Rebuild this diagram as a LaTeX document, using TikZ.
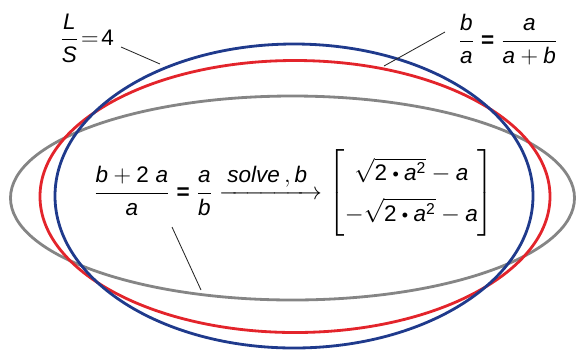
\documentclass[tikz,border=0pt]{standalone}
\usepackage{amsmath}
\usepackage{graphicx}
\usepackage{fontspec}
\setmainfont{Liberation Sans}
\usetikzlibrary{positioning,calc}
\definecolor{navyline}{HTML}{1F3A8C}
\definecolor{redline}{HTML}{E3242B}
\definecolor{grayline}{HTML}{858585}
\newcommand{\vi}[1]{\text{\itshape #1}}
\newcommand{\bdot}{\mathbin{\text{\scalebox{0.8}{\textbullet}}}}
\newcommand{\beq}{\mathrel{\text{\bfseries =}}}

\begin{document}
\begin{tikzpicture}[x=0.025cm, y=-0.025cm, font=\fontsize{16}{19}\selectfont,
  ring/.style={line width=2pt},
  leader/.style={draw=black!85, line width=0.6pt}]
\useasboundingbox (0,0) rectangle (577,351);

% the three ellipses
\draw[ring, grayline] (292.5,198) ellipse [x radius=282, y radius=102];
\draw[ring, redline] (295,196.5) ellipse [x radius=255, y radius=136];
\draw[ring, navyline] (294,196) ellipse [x radius=239, y radius=152];

% labels
\node (ratio) at (87,38) {$\dfrac{\vi{L}}{\vi{S}}\!=\!\text{4}$};
\node (golden) at (508,40) {$\dfrac{\vi{b}}{\vi{a}}\beq\dfrac{\vi{a}}{\vi{a}+\vi{b}}$};
\node (solve) at (294,193) {$\dfrac{\vi{b}+\text{2}\;\vi{a}}{\vi{a}}\beq\dfrac{\vi{a}}{\vi{b}}
  \xrightarrow{\;\textstyle\vi{solve}\,,\vi{b}\;}
  \def\arraystretch{1.5}
  \begin{bmatrix} \sqrt{\text{2}\bdot\vi{a}^{\text{2}}}-\vi{a}\\
  -\sqrt{\text{2}\bdot\vi{a}^{\text{2}}}-\vi{a}\end{bmatrix}$};

% leader lines
\coordinate (ratioA) at (121,47);
\coordinate (ratioB) at (160,64);
\coordinate (goldenA) at (445,32);
\coordinate (goldenB) at (384,66);
\coordinate (solveA) at (172,227);
\coordinate (solveB) at (201,290);
\draw[leader] (ratioA) -- (ratioB);
\draw[leader] (goldenA) -- (goldenB);
\draw[leader] (solveA) -- (solveB);
\end{tikzpicture}
\end{document}
